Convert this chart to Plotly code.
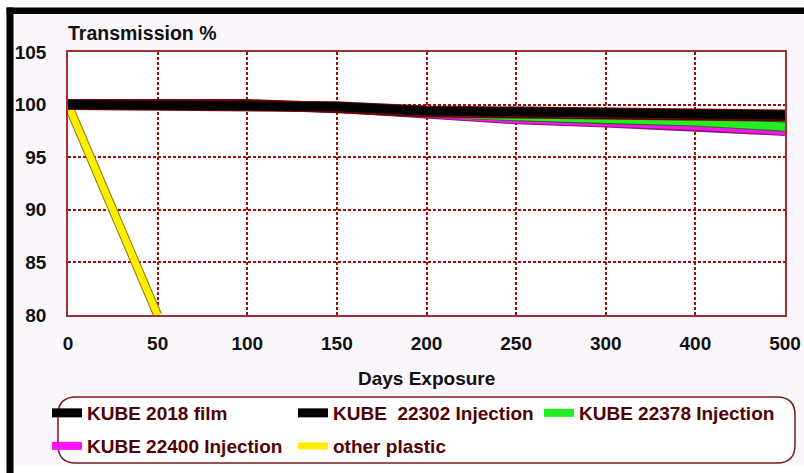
import plotly.graph_objects as go

# ---- data ----
days = ["0", "50", "100", "150", "200", "250", "300", "400", "500"]
film_2018 = [100, 100, 100, 99.8, 99.4, 99.3, 99.2, 99.1, 99.0]
inj_22302 = [100, 100, 100, 99.7, 99.3, 99.2, 99.1, 99.0, 98.9]
inj_22378 = [100, 100, 100, 99.7, 99.2, 98.9, 98.6, 98.4, 97.9]
inj_22400 = [100, 100, 100, 99.7, 99.1, 98.6, 98.3, 98.0, 97.5]
other_days = ["0", "50"]
other_plastic = [100, 80]

y_ticks = [80, 85, 90, 95, 100, 105]

W, H = 804, 473
# plot area in page pixels: x 68..785, y 52..315
L, R, T, B = 68, W - 785, 52, H - 315
PW, PH = W - L - R, H - T - B


def px(x):
    """page x pixel -> paper coordinate"""
    return (x - L) / PW


def py(y):
    """page y pixel -> paper coordinate"""
    return (H - B - y) / PH


FONT = "Liberation Sans, Arial, sans-serif"
GRID = "#9a0e0e"

fig = go.Figure()

# drawn bottom-to-top: other plastic, 22400, 22378, 22302, 2018 film
series = [
    ("other plastic", other_days, other_plastic, "#ffee00", "#8a7a00", 7, "legend2"),
    ("KUBE 22400 Injection", days, inj_22400, "#ff10ff", "#8a1a6a", 8, "legend2"),
    ("KUBE 22378 Injection", days, inj_22378, "#22ee22", "#2a6a10", 8, "legend"),
    ("KUBE  22302 Injection", days, inj_22302, "#000000", "#7a0a0a", 9, "legend"),
    ("KUBE 2018 film", days, film_2018, "#000000", "#7a0a0a", 9, "legend"),
]

for name, xs, ys, col, edge, w, lg in series:
    fig.add_trace(go.Scatter(
        x=xs, y=ys, mode="lines", line=dict(color=edge, width=w + 2),
        showlegend=False, hoverinfo="skip", legendgroup=name))
    fig.add_trace(go.Scatter(
        x=xs, y=ys, mode="lines", name=name, line=dict(color=col, width=w),
        legendgroup=name, legend=lg))

leg_font = dict(family=FONT, size=19, color="#520000", weight="bold")

shapes = [
    # outer white margins
    dict(type="rect", xref="paper", yref="paper", x0=px(-5), x1=px(6.5), y0=py(490), y1=py(-5),
         fillcolor="white", line_width=0, layer="below"),
    dict(type="rect", xref="paper", yref="paper", x0=px(-5), x1=px(820), y0=py(7.5), y1=py(-5),
         fillcolor="white", line_width=0, layer="below"),
    dict(type="rect", xref="paper", yref="paper", x0=px(-5), x1=px(820), y0=py(490), y1=py(466),
         fillcolor="white", line_width=0, layer="below"),
    # black frame bands (left and top)
    dict(type="rect", xref="paper", yref="paper", x0=px(6.5), x1=px(13.5), y0=py(490), y1=py(7.5),
         fillcolor="black", line_width=0, layer="above"),
    dict(type="rect", xref="paper", yref="paper", x0=px(6.5), x1=px(820), y0=py(14), y1=py(7.5),
         fillcolor="black", line_width=0, layer="above"),
]

# rounded legend box
x0, x1, yt, yb, r = 58, 795, 397, 463, 18
path = (f"M {px(x0 + r)},{py(yt)} L {px(x1 - r)},{py(yt)} "
        f"Q {px(x1)},{py(yt)} {px(x1)},{py(yt + r)} "
        f"L {px(x1)},{py(yb - r)} Q {px(x1)},{py(yb)} {px(x1 - r)},{py(yb)} "
        f"L {px(x0 + r)},{py(yb)} Q {px(x0)},{py(yb)} {px(x0)},{py(yb - r)} "
        f"L {px(x0)},{py(yt + r)} Q {px(x0)},{py(yt)} {px(x0 + r)},{py(yt)} Z")
shapes.append(dict(type="path", xref="paper", yref="paper", path=path,
                   line=dict(color="#7a1a1a", width=1.5), fillcolor="white", layer="below"))

fig.update_layout(
    width=W, height=H,
    margin=dict(l=L, r=R, t=T, b=B, autoexpand=False),
    paper_bgcolor="#faf6fb",
    plot_bgcolor="white",
    font=dict(family=FONT, size=19, color="#111111"),
    shapes=shapes,
    legend=dict(orientation="h", x=px(47), xanchor="left", y=py(413), yanchor="middle",
                font=leg_font, bgcolor="rgba(0,0,0,0)", itemwidth=30,
                entrywidth=201, entrywidthmode="pixels", traceorder="reversed"),
    legend2=dict(orientation="h", x=px(47), xanchor="left", y=py(446), yanchor="middle",
                 font=leg_font, bgcolor="rgba(0,0,0,0)", itemwidth=30,
                 entrywidth=201, entrywidthmode="pixels", traceorder="reversed"),
    annotations=[
        dict(text="<b>Transmission %</b>", xref="paper", yref="paper", x=px(66), y=py(33),
             xanchor="left", yanchor="middle", showarrow=False,
             font=dict(family=FONT, size=19.5, color="#111111")),
        dict(text="<b>Days Exposure</b>", xref="paper", yref="paper", x=px(426), y=py(378),
             xanchor="center", yanchor="middle", showarrow=False,
             font=dict(family=FONT, size=19, color="#111111")),
    ],
    showlegend=True,
)

tickfont = dict(family=FONT, size=19, color="#111111", weight="bold")

fig.update_xaxes(
    type="category", categoryorder="array", categoryarray=days,
    range=[0, len(days) - 1], tickvals=days, ticktext=days,
    showgrid=True, gridcolor=GRID, gridwidth=1.5, griddash="3px,2px",
    showline=True, linecolor="#a03030", linewidth=1.5, mirror=True,
    ticks="", ticklabelstandoff=10, zeroline=False, tickfont=tickfont,
)
fig.update_yaxes(
    range=[80, 105], tickvals=y_ticks,
    showgrid=True, gridcolor=GRID, gridwidth=1.5, griddash="3px,2px",
    showline=True, linecolor="#a03030", linewidth=1.5, mirror=True,
    ticks="", ticklabelstandoff=16, zeroline=False, tickfont=tickfont,
)

fig.write_html(
    "out.html",
    config={"displayModeBar": False},
    post_script="document.body.style.margin='0';document.body.style.overflow='hidden';",
)
